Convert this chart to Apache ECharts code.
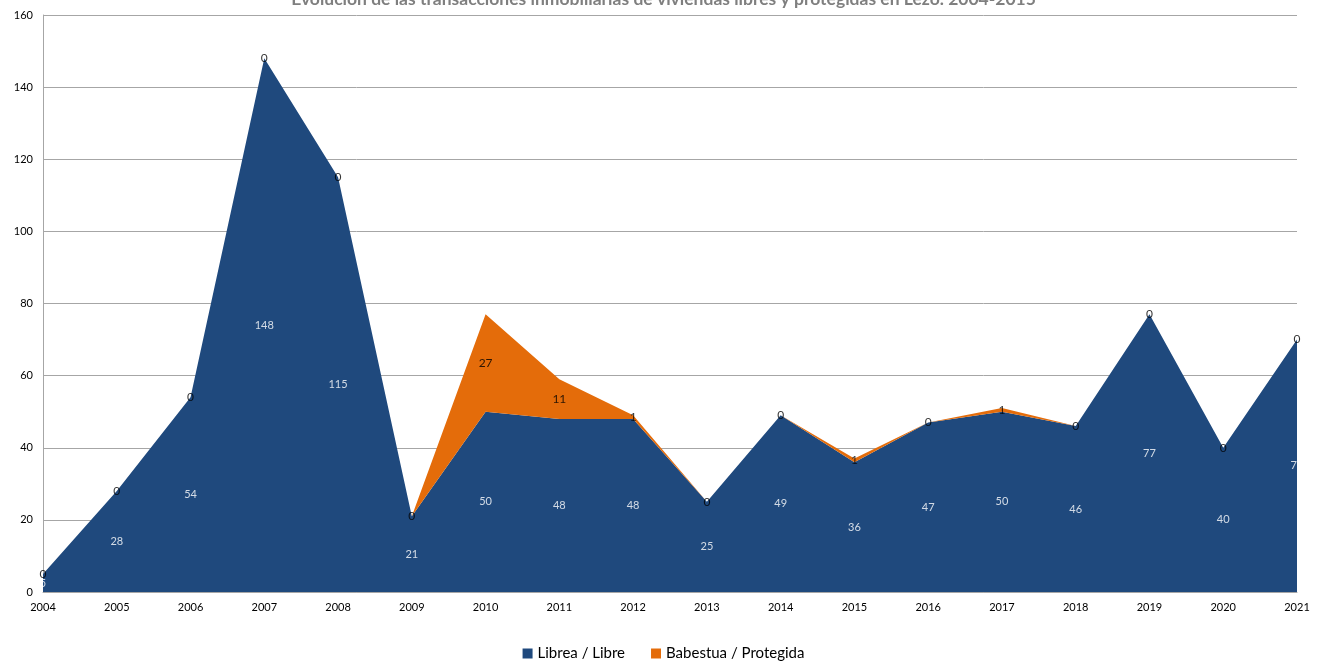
<!DOCTYPE html>
<html><head><meta charset="utf-8">
<script src="https://cdn.jsdelivr.net/npm/echarts@6/dist/echarts.min.js"></script>
<style>html,body{margin:0;padding:0;background:#fff}#c{width:1327px;height:666px}</style>
</head><body><div id="c"></div>
<script>
const years = ['2004','2005','2006','2007','2008','2009','2010','2011','2012','2013','2014','2015','2016','2017','2018','2019','2020','2021'];
const libre = [5,28,54,148,115,21,50,48,48,25,49,36,47,50,46,77,40,70];
const protegida = [0,0,0,0,0,0,27,11,1,0,0,1,0,1,0,0,0,0];
const seriesNames = ['Librea / Libre','Babestua / Protegida'];
const titleText = 'Evolución de las transacciones inmobiliarias de viviendas libres y protegidas en Lezo. 2004-2015';

const FONT = 'Lato';
const libreMid = libre.map(v => v / 2);
const protMid = libre.map((v, i) => v + protegida[i] / 2);

const chart = echarts.init(document.getElementById('c'));
chart.setOption({
  animation: false,
  textStyle: { fontFamily: FONT },
  title: { text: titleText, left: 'center', top: -15,
    textStyle: { fontFamily: FONT, fontSize: 17.5, fontWeight: 'bold', color: '#7f7f7f' } },
  grid: { left: 43, right: 30, top: 15, bottom: 74, containLabel: false },
  legend: { bottom: 0, left: 'center', itemWidth: 10, itemHeight: 10, itemGap: 26, icon: 'rect',
    data: seriesNames, textStyle: { fontFamily: FONT, fontSize: 15, color: '#000' } },
  xAxis: { type: 'category', data: years, boundaryGap: false,
    axisLine: { lineStyle: { color: '#a6a6a6' } }, axisTick: { show: false },
    axisLabel: { color: '#000', fontSize: 11, margin: 10 } },
  yAxis: { type: 'value', min: 0, max: 160, interval: 20,
    axisLine: { show: true, lineStyle: { color: '#a6a6a6' } },
    splitLine: { lineStyle: { color: '#a6a6a6' } },
    axisLabel: { color: '#000', fontSize: 11, margin: 10 } },
  series: [
    { name: seriesNames[0], type: 'line', stack: 's', data: libre, symbol: 'none',
      lineStyle: { width: 0 }, itemStyle: { color: '#1f497d' }, areaStyle: { color: '#1f497d', opacity: 1 } },
    { name: seriesNames[1], type: 'line', stack: 's', data: protegida, symbol: 'none',
      lineStyle: { width: 0 }, itemStyle: { color: '#e46c0a' }, areaStyle: { color: '#e46c0a', opacity: 1 } },
    { type: 'scatter', data: libreMid, symbolSize: 0, silent: true, z: 5,
      label: { show: true, position: 'inside', color: '#fff', fontSize: 11,
        formatter: p => String(libre[p.dataIndex]) } },
    { type: 'scatter', data: protMid, symbolSize: 0, silent: true, z: 5,
      label: { show: true, position: 'inside', color: '#000', fontSize: 12,
        formatter: p => String(protegida[p.dataIndex]) } }
  ]
});
</script></body></html>
